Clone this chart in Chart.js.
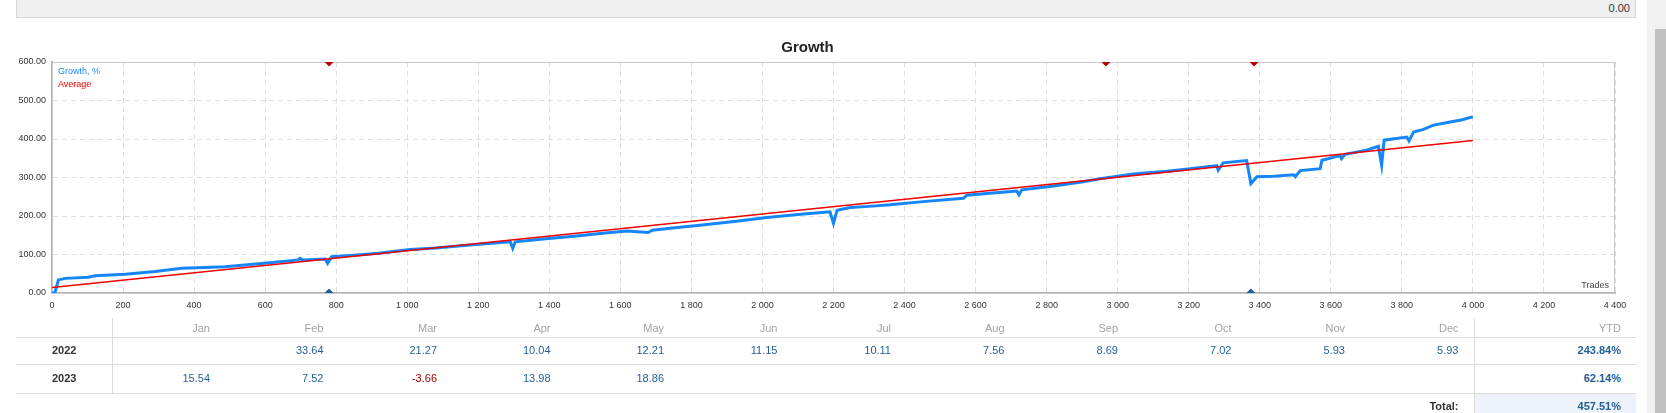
<!DOCTYPE html>
<html>
<head>
<meta charset="utf-8">
<script src="https://cdn.jsdelivr.net/npm/chart.js@4.4.0/dist/chart.umd.min.js"></script>
<style>
    body { margin: 0; width: 1666px; height: 413px; overflow: hidden; background: #fff; font-family: "Liberation Sans", Arial, sans-serif; position: relative; }
    .topbar { position: absolute; left: 16px; top: -1px; width: 1618px; height: 17px; background: #efefef; border: 1px solid #d8d8d8; }
    .topbar span { position: absolute; right: 5px; top: 2px; font-size: 11px; color: #333; }
    .track { position: absolute; left: 1647px; top: 0; width: 19px; height: 413px; background: #f1f1f1; }
    .thumb { position: absolute; left: 1655px; top: 29px; width: 11px; height: 384px; background: #c1c1c1; }
    #chartBox { position: absolute; left: 0; top: 30px; width: 1650px; height: 290px; }
    .cell { position: absolute; font-size: 11px; line-height: 14px; white-space: nowrap; }
    .hline { position: absolute; height: 1px; background: #dcdcdc; }
    .vline { position: absolute; width: 1px; background: #dcdcdc; }
</style>
</head>
<body>
<div class="topbar"><span>0.00</span></div>
<div class="track"></div>
<div class="thumb"></div>
<div id="chartBox"><canvas id="growthChart"></canvas></div>
<div id="table"></div>

<script>
// Growth curve (trade number -> growth %)
const tradeX = [0, 8, 18, 37, 102, 121, 206, 290, 365, 430, 487, 543, 620, 693, 698, 705, 769, 776, 787, 850,
    919, 1008, 1080, 1153, 1220, 1290, 1297, 1304, 1390, 1477, 1550, 1618, 1678, 1690, 1760, 1824, 1920, 2012,
    2100, 2190, 2200, 2210, 2247, 2300, 2359, 2460, 2566, 2575, 2640, 2716, 2722, 2730, 2820, 2903, 2950, 3044,
    3138, 3185, 3279, 3283, 3297, 3363, 3375, 3392, 3440, 3495, 3500, 3514, 3570, 3575, 3626, 3630, 3640, 3701,
    3734, 3743, 3750, 3814, 3820, 3833, 3861, 3889, 3936, 3970, 3992, 4000];
const growthY = [0, 0, 34, 38, 41, 45, 49, 56, 64, 66, 68, 73, 79, 86, 90, 86, 88, 77, 94, 98,
    103, 113, 117, 123, 128, 133, 116, 133, 141, 148, 155, 161, 157, 163, 170, 176, 186, 196,
    204, 211, 181, 215, 222, 225, 229, 238, 246, 254, 259, 265, 255, 268, 278, 289, 297, 309,
    316, 321, 331, 319, 338, 344, 284, 302, 303, 307, 302, 318, 323, 345, 357, 349, 360, 371,
    381, 332, 397, 405, 395, 418, 425, 436, 444, 450, 456, 457.51];

// Average (trend) line
const avgX = [0, 4000];
const avgY = [14, 396];

// Event markers
const topMarkX = [780, 2967, 3384];
const bottomMarkX = [780, 3375];

// Monthly table
const months = ['Jan', 'Feb', 'Mar', 'Apr', 'May', 'Jun', 'Jul', 'Aug', 'Sep', 'Oct', 'Nov', 'Dec'];
const years = ['2022', '2023'];
const returns2022 = [null, 33.64, 21.27, 10.04, 12.21, 11.15, 10.11, 7.56, 8.69, 7.02, 5.93, 5.93];
const returns2023 = [15.54, 7.52, -3.66, 13.98, 18.86, null, null, null, null, null, null, null];
const ytd = [243.84, 62.14];
const total = 457.51;

const blueLine = '#1586f7';
const redLine = '#f00000';

function fmtThousands(v) {
    return String(v).replace(/\B(?=(\d{3})+(?!\d))/g, ' ');
}

// frame, legend and "Trades" label inside the plot
const plotDecor = {
    id: 'plotDecor',
    beforeDatasetsDraw(chart) {
        const {ctx, chartArea: a} = chart;
        ctx.save();
        ctx.strokeStyle = '#c8c8c8';
        ctx.lineWidth = 1;
        ctx.strokeRect(a.left + 0.5, a.top + 0.5, a.right - a.left - 1, a.bottom - a.top);
        ctx.restore();
    },
    afterDraw(chart) {
        const {ctx, chartArea: a} = chart;
        ctx.save();
        ctx.font = '9px "Liberation Sans", Arial, sans-serif';
        ctx.textBaseline = 'middle';
        ctx.textAlign = 'left';
        [0, 1].forEach(function(i) {
            const ds = chart.data.datasets[i];
            ctx.fillStyle = ds.borderColor;
            ctx.fillText(ds.label, a.left + 6, a.top + 10 + i * 13);
        });
        ctx.fillStyle = '#444';
        ctx.textAlign = 'right';
        ctx.fillText('Trades', a.right - 6, a.bottom - 7);
        ctx.restore();
    }
};

const tickFont = { family: '"Liberation Sans", Arial, sans-serif', size: 9 };

const ctx = document.getElementById('growthChart').getContext('2d');
const growthChart = new Chart(ctx, {
    type: 'scatter',
    data: {
        datasets: [
            {
                label: 'Growth, %',
                data: tradeX.map((x, i) => ({ x: x, y: growthY[i] })),
                showLine: true,
                borderColor: blueLine,
                borderWidth: 3,
                pointRadius: 0,
                order: 2
            },
            {
                label: 'Average',
                data: avgX.map((x, i) => ({ x: x, y: avgY[i] })),
                showLine: true,
                borderColor: redLine,
                borderWidth: 1.5,
                pointRadius: 0,
                order: 1
            },
            {
                label: 'top',
                data: topMarkX.map(x => ({ x: x, y: 600 })),
                pointStyle: 'rectRot',
                pointRadius: 4.5,
                backgroundColor: '#b80000',
                borderWidth: 0,
                clip: 0,
                order: 0
            },
            {
                label: 'bottom',
                data: bottomMarkX.map(x => ({ x: x, y: 0 })),
                pointStyle: 'rectRot',
                pointRadius: 4.5,
                backgroundColor: '#1a5e96',
                borderWidth: 0,
                clip: 0,
                order: 0
            }
        ]
    },
    options: {
        responsive: true,
        maintainAspectRatio: false,
        animation: false,
        layout: { padding: { left: 0, right: 35, top: 0, bottom: 0 } },
        scales: {
            x: {
                type: 'linear',
                min: 0,
                max: 4400,
                afterFit: function(scale) { scale.height = 27; },
                ticks: {
                    stepSize: 200,
                    padding: 7,
                    color: '#333',
                    font: tickFont,
                    maxRotation: 0,
                    autoSkip: false,
                    callback: v => fmtThousands(v)
                },
                grid: { color: '#dedede', lineWidth: 1, drawTicks: false },
                border: { color: '#b4b4b4', width: 2, dash: [5, 4] }
            },
            y: {
                min: 0,
                max: 600,
                afterFit: function(scale) { scale.width = 52; },
                ticks: {
                    stepSize: 100,
                    padding: 6,
                    color: '#333',
                    font: tickFont,
                    callback: v => v.toFixed(2)
                },
                grid: { color: '#dedede', lineWidth: 1, drawTicks: false },
                border: { color: '#b4b4b4', width: 2, dash: [5, 4] }
            }
        },
        plugins: {
            legend: { display: false },
            tooltip: { enabled: false },
            title: {
                display: true,
                text: 'Growth',
                color: '#222',
                font: { family: '"Liberation Sans", Arial, sans-serif', size: 15, weight: 'bold' },
                padding: { top: 9, bottom: 5 }
            }
        }
    },
    plugins: [plotDecor]
});

// Monthly returns table under the chart
const table = document.getElementById('table');
const colRight = i => 210 + i * 113.5;
const ytdRight = 1621;

function addCell(text, right, midY, style) {
    const el = document.createElement('div');
    el.className = 'cell';
    el.textContent = text;
    el.style.right = (1666 - right) + 'px';
    el.style.top = (midY - 7) + 'px';
    Object.assign(el.style, style || {});
    table.appendChild(el);
}
function addLine(cls, left, top, size) {
    const el = document.createElement('div');
    el.className = cls;
    el.style.left = left + 'px';
    el.style.top = top + 'px';
    if (cls === 'hline') el.style.width = size + 'px'; else el.style.height = size + 'px';
    table.appendChild(el);
}

// light blue background of the total cell
const totBg = document.createElement('div');
totBg.style.cssText = 'position:absolute;left:1475px;top:394px;width:161px;height:19px;background:#eef2fa;';
table.appendChild(totBg);

addLine('hline', 16, 337, 1620);
addLine('hline', 16, 364, 1620);
addLine('hline', 16, 393, 1620);
addLine('vline', 112, 318, 75);
addLine('vline', 1474, 318, 95);

months.forEach((m, i) => addCell(m, colRight(i), 328, { color: '#a3a3a3' }));
addCell('YTD', ytdRight, 328, { color: '#a3a3a3' });

[returns2022, returns2023].forEach(function(row, r) {
    const midY = r === 0 ? 350 : 378;
    const yearEl = document.createElement('div');
    yearEl.className = 'cell';
    yearEl.textContent = years[r];
    yearEl.style.left = '52px';
    yearEl.style.top = (midY - 7) + 'px';
    yearEl.style.fontWeight = 'bold';
    yearEl.style.color = '#333';
    table.appendChild(yearEl);
    row.forEach(function(v, i) {
        if (v === null) return;
        addCell(v.toFixed(2), colRight(i), midY, { color: v < 0 ? '#a80000' : '#1f5f9a' });
    });
    addCell(ytd[r].toFixed(2) + '%', ytdRight, midY, { color: '#1f5f9a', fontWeight: 'bold' });
});

addCell('Total:', colRight(11), 406, { color: '#333', fontWeight: 'bold' });
addCell(total.toFixed(2) + '%', ytdRight, 406, { color: '#1f5f9a', fontWeight: 'bold' });
</script>
</body>
</html>
